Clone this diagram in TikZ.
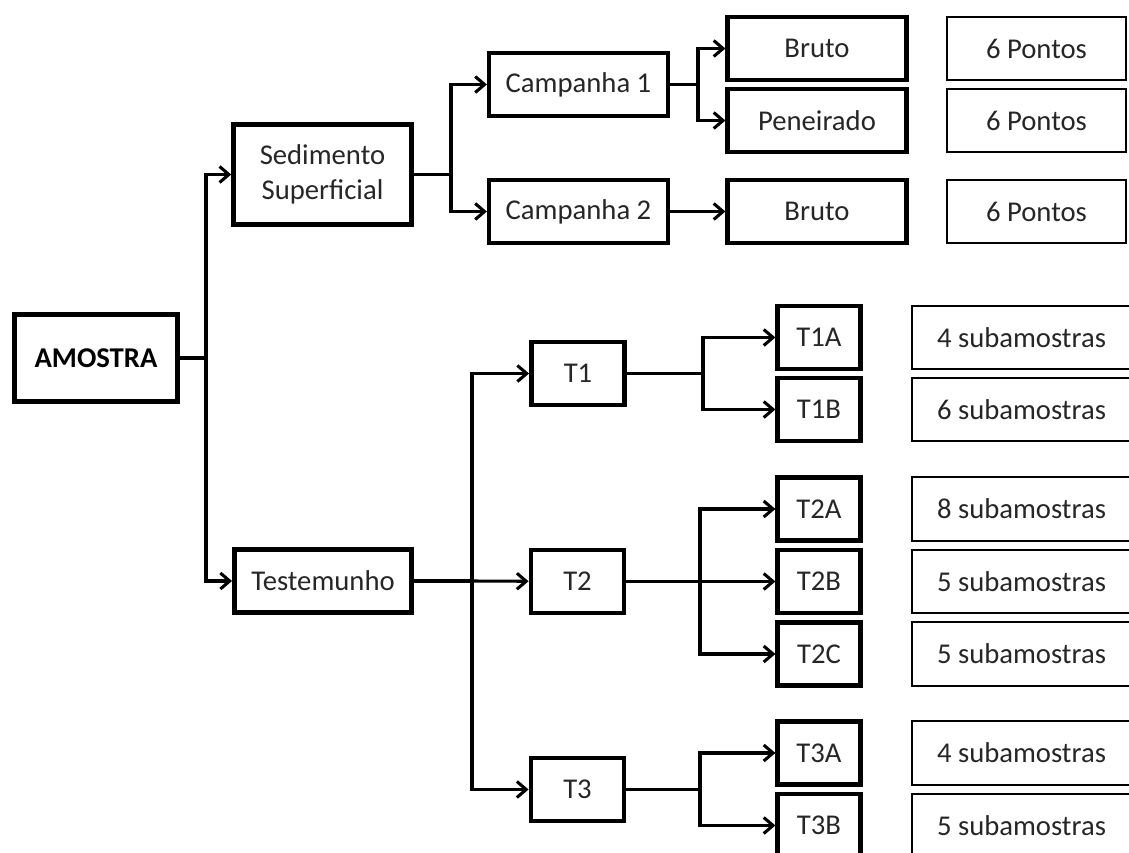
\documentclass[tikz,border=0pt]{standalone}
\usepackage{fontspec}
\setmainfont{Carlito}
\usetikzlibrary{arrows.meta}

\begin{document}
\begin{tikzpicture}[x=0.75pt,y=-0.75pt,
	box/.style={shape=rectangle,draw=black,line width=3.4pt,inner sep=0pt,align=center,
		text=black!85,font=\fontsize{21.5}{26}\selectfont},
	thinbox/.style={box,line width=1.6pt},
	wide/.style={minimum width=134pt,minimum height=47.5pt},
	narrow/.style={minimum width=70pt,minimum height=47pt},
	small/.style={minimum width=62pt,minimum height=47pt},
	link/.style={line width=2.3pt},
	arrow/.style={link,-{Straight Barb[length=7pt,width=12pt]}}]

	\useasboundingbox (0,0) rectangle (1129,853);

	\node[box,minimum width=122pt,minimum height=65pt,text=black] (amostra) at (96,358) {\textbf{AMOSTRA}};
	\node[box,minimum width=133.5pt,minimum height=75pt] (sedimento) at (322.5,174.5) {Sedimento\\Superficial};
	\node[box,minimum width=133pt,minimum height=47pt] (testemunho) at (323,581) {Testemunho};

	\node[box,wide] (campanha1) at (578.5,84.5)  {Campanha 1};
	\node[box,wide] (campanha2) at (578.5,211.5) {Campanha 2};

	\node[box,wide] (bruto1)    at (817,48.5)  {Bruto};
	\node[box,wide] (peneirado) at (817,120.5) {Peneirado};
	\node[box,wide] (bruto2)    at (817,211.5) {Bruto};

	\node[thinbox,wide] (pontos1) at (1036.5,48.5)  {6 Pontos};
	\node[thinbox,wide] (pontos2) at (1036.5,120.5) {6 Pontos};
	\node[thinbox,wide] (pontos3) at (1036.5,211.5) {6 Pontos};

	\node[box,narrow] (t1) at (578,373.5)   {T1};
	\node[box,narrow] (t2) at (577.5,581.5) {T2};
	\node[box,narrow] (t3) at (577.5,789.5) {T3};

	\node[box,small] (t1a) at (819,337.5) {T1A};
	\node[box,small] (t1b) at (819,409.5) {T1B};
	\node[box,small] (t2a) at (819,509)   {T2A};
	\node[box,small] (t2b) at (819,581.5) {T2B};
	\node[box,small] (t2c) at (819,654)   {T2C};
	\node[box,small] (t3a) at (819,753)   {T3A};
	\node[box,small] (t3b) at (819,825.5) {T3B};

	\node[thinbox,wide,minimum width=164pt] (sub1a) at (1021.5,337.5) {4 subamostras};
	\node[thinbox,wide,minimum width=164pt] (sub1b) at (1021.5,409.5) {6 subamostras};
	\node[thinbox,wide,minimum width=164pt] (sub2a) at (1021.5,509)   {8 subamostras};
	\node[thinbox,wide,minimum width=164pt] (sub2b) at (1021.5,581.5) {5 subamostras};
	\node[thinbox,wide,minimum width=164pt] (sub2c) at (1021.5,654)   {5 subamostras};
	\node[thinbox,wide,minimum width=164pt] (sub3a) at (1021.5,753)   {4 subamostras};
	\node[thinbox,wide,minimum width=164pt] (sub3b) at (1021.5,825.5) {5 subamostras};

	% branch points
	\coordinate (s0) at (206,358);
	\coordinate (s1) at (451,174.5);
	\coordinate (s2) at (698,84.5);
	\coordinate (s3) at (472,581);
	\coordinate (s4) at (703,373.5);
	\coordinate (s5) at (700,581.5);
	\coordinate (s6) at (700,789.5);

	\draw[link]  (amostra) -- (s0);
	\draw[arrow] (s0) |- (sedimento);
	\draw[arrow] (s0) |- (testemunho);

	\draw[link]  (sedimento) -- (s1);
	\draw[arrow] (s1) |- (campanha1);
	\draw[arrow] (s1) |- (campanha2);

	\draw[link]  (campanha1) -- (s2);
	\draw[arrow] (s2) |- (bruto1);
	\draw[arrow] (s2) |- (peneirado);
	\draw[arrow] (campanha2) -- (bruto2);

	\draw[link]  (testemunho) -- (s3);
	\draw[arrow] (s3) |- (t1);
	\draw[arrow] (s3) -- (t2);
	\draw[arrow] (s3) |- (t3);

	\draw[link]  (t1) -- (s4);
	\draw[arrow] (s4) |- (t1a);
	\draw[arrow] (s4) |- (t1b);

	\draw[link]  (t2) -- (s5);
	\draw[arrow] (s5) |- (t2a);
	\draw[arrow] (s5) -- (t2b);
	\draw[arrow] (s5) |- (t2c);

	\draw[link]  (t3) -- (s6);
	\draw[arrow] (s6) |- (t3a);
	\draw[arrow] (s6) |- (t3b);
\end{tikzpicture}
\end{document}
